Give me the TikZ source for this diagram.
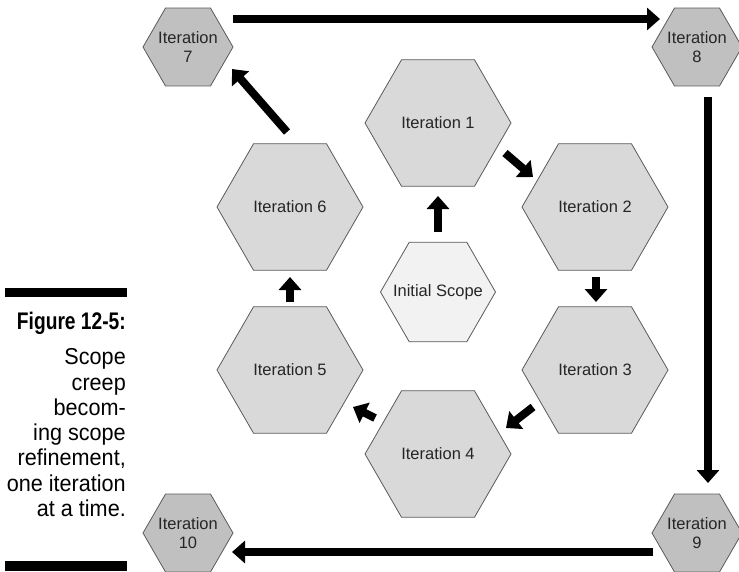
\documentclass[tikz,border=0pt]{standalone}
\usepackage{graphicx}
\usepackage{fontspec}
\setmainfont{Liberation Sans}
\newfontfamily\capfont[FakeStretch=0.94]{Liberation Sans}
\newfontfamily\capbold{Liberation Sans}
\usepackage{tikz}
\usetikzlibrary{arrows.meta,shapes.geometric,positioning,calc}
\definecolor{hexfill}{HTML}{D9D9D9}
\definecolor{cornerfill}{HTML}{C0C0C0}
\definecolor{startfill}{HTML}{F2F2F2}
\definecolor{hexline}{HTML}{5A5A5A}

\begin{document}
\begin{tikzpicture}[x=1pt,y=-1pt,
  hextext/.style={inner sep=0pt, align=center, text=black!85,
    font=\fontsize{16.5}{19}\selectfont},
  iter/.style={regular polygon, regular polygon sides=6, draw=hexline, line width=0.8pt,
    fill=hexfill, inner sep=0pt, minimum size=146pt, label={[hextext]center:#1}},
  corner/.style={iter={#1}, fill=cornerfill, minimum size=90pt},
  flow/.style={line width=8pt, -{Triangle[length=13pt,width=22pt]}}]
\useasboundingbox (0,0) rectangle (739,571);
% Caption at the left
\fill[black] (5,288) rectangle (127,297);
\fill[black] (5,561) rectangle (127,571);
\node[anchor=base east, align=right, inner sep=0pt,
  font=\capfont\fontsize{23}{25.3}\selectfont] (caption) at (126,516.5)
  {\scalebox{0.8}[1]{\capbold\bfseries\fontsize{24}{25.3}\selectfont Figure 12-5:}\\[10pt] Scope\\creep\\becom-\\ing scope\\refinement,\\one iteration\\at a time.};
% Inner ring
\node[iter=Initial Scope, fill=startfill, minimum size=115pt] (init) at (438,292) {};
\node[iter=Iteration 1] (it1) at (438,123) {};
\node[iter=Iteration 2] (it2) at (595,207) {};
\node[iter=Iteration 3] (it3) at (595,370) {};
\node[iter=Iteration 4] (it4) at (438,454) {};
\node[iter=Iteration 5] (it5) at (290,370) {};
\node[iter=Iteration 6] (it6) at (290,207) {};
% Outer corners
\node[corner=Iteration\\7] (it7) at (188,47) {};
\node[corner=Iteration\\8] (it8) at (697,47) {};
\node[corner=Iteration\\9] (it9) at (697,533) {};
\node[corner=Iteration\\10] (it10) at (188,533) {};
% Arrows
\draw[flow] ($(init)+(0,-60)$) -- ($(it1)+(0,73)$);
\draw[flow] ($(it1)+(67,30)$) -- ($(it2)+(-62,-30)$);
\draw[flow] ($(it2)+(1,70)$) -- ($(it3)+(1,-68)$);
\draw[flow] ($(it3)+(-62,37)$) -- ($(it4)+(68,-26)$);
\draw[flow] ($(it4)+(-63,-36)$) -- ($(it5)+(63,37)$);
\draw[flow] ($(it5)+(0,-68)$) -- ($(it6)+(0,70)$);
\draw[flow] ($(it6)+(-3,-75)$) -- ($(it7)+(44,22)$);
\draw[flow] ($(it7)+(45,-28)$) -- ($(it8)+(-37,-28)$);
\draw[flow] ($(it8)+(11,50)$) -- ($(it9)+(11,-50)$);
\draw[flow] ($(it9)+(-44,19)$) -- ($(it10)+(44,19)$);
\end{tikzpicture}
\end{document}
